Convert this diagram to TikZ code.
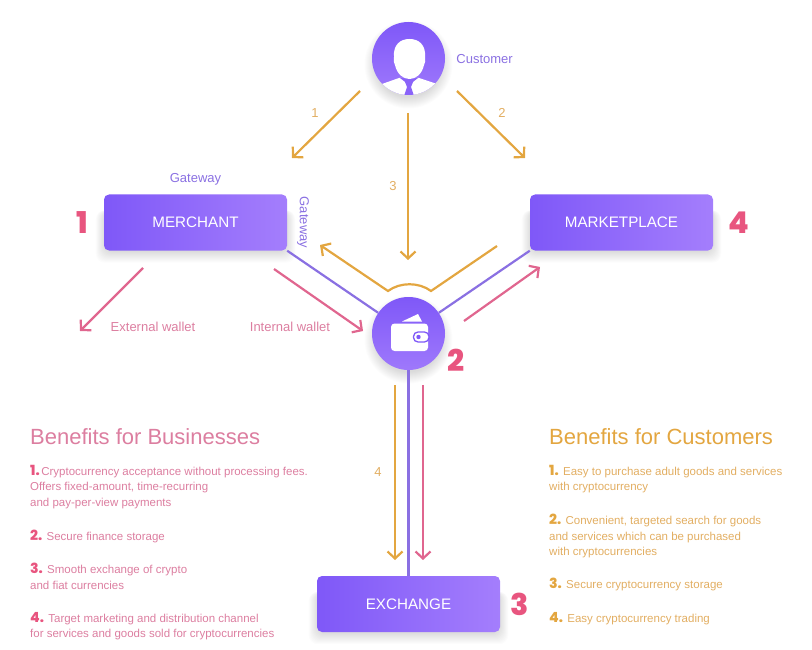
\documentclass[tikz,border=0pt]{standalone}
\usepackage{fontspec}
\setmainfont{Liberation Sans}
\newfontfamily\numfont{Poppins}[BoldFont={Poppins ExtraBold}]
\usepackage{tikz}
\usetikzlibrary{arrows.meta, positioning, calc, backgrounds}
\definecolor{violetA}{HTML}{7F58F8}
\definecolor{violetB}{HTML}{A47EFC}
\definecolor{violetLine}{HTML}{8A70E2}
\definecolor{amberLine}{HTML}{E3A640}
\definecolor{amberText}{HTML}{E2AE62}
\definecolor{roseLine}{HTML}{E0668F}
\definecolor{roseText}{HTML}{DC7EA0}
\definecolor{roseNum}{HTML}{E8557F}
\newcommand{\pnum}{\numfont\bfseries\fontsize{14}{15.5}\selectfont}
\newcommand{\softbox}[1]{\foreach \g in {1,...,12}
    \fill[black, opacity=.011, rounded corners=9pt] ($(#1.south west)+(1.5-\g*.8,\g)$) rectangle ($(#1.north east)+(\g*.8-1.5,16)$);}
\newcommand{\softhub}[1]{\foreach \g in {1,...,12}
    \fill[black, opacity=.011] ($(#1.center)+(0,6)$) circle ({32+\g});}
\begin{document}
\begin{tikzpicture}[
    x=1pt, y=-1pt,
    box/.style={rounded corners=5pt, minimum width=183pt, minimum height=56pt, inner sep=0pt,
        left color=violetA, right color=violetB, text=white, font=\fontsize{15.2}{17}\selectfont},
    hub/.style={circle, minimum size=73pt, inner sep=0pt, top color=violetA, bottom color=violetB!85!violetA},
    bignum/.style={text=roseNum, font=\numfont\bfseries\fontsize{30}{30}\selectfont, inner sep=0pt},
    violetlabel/.style={text=violetLine, font=\fontsize{13}{15}\selectfont, inner sep=0pt},
    amberlabel/.style={text=amberText, font=\fontsize{13}{15}\selectfont, inner sep=0pt},
    roselabel/.style={text=roseText, font=\fontsize{13}{15}\selectfont, inner sep=0pt},
    head/.style={anchor=west, inner sep=0pt, font=\fontsize{22}{24}\selectfont},
    para/.style={anchor=north west, inner sep=0pt, align=left, font=\fontsize{11.5}{15.5}\selectfont},
    link/.style={draw=violetLine, line width=2.2pt},
    amb/.style={draw=amberLine, line width=2.2pt, -{Straight Barb[length=7pt, width=15pt]}},
    ros/.style={draw=roseLine, line width=2.2pt, -{Straight Barb[length=7pt, width=15pt]}},
]
\useasboundingbox (0,0) rectangle (812,650);
\node[box] (merchant) at (195.5,222.5) {MERCHANT};
\node[box] (marketplace) at (621.5,222.5) {MARKETPLACE};
\node[box] (exchange) at (408.5,604) {EXCHANGE};
\node[hub] (customer) at (408.5,58.5) {};
\node[hub] (wallet) at (408.5,333.5) {};
% person
\begin{scope}
\clip (customer.center) circle (36.5);
\fill[white] (382,84) -- (399,78) -- (419,78) -- (437,84) -- (442,100) -- (376,100) -- cycle;
\fill[violetA!70!violetB] (400,78) -- (409,85) -- (418,78) -- cycle;
\fill[violetA!70!violetB] (405,82) -- (413,82) -- (411,87) -- (414,96) -- (404,96) -- (407,87) -- cycle;
\end{scope}
\fill[white] (394,57) .. controls (393,45) and (400,39) .. (409.5,39) .. controls (419,39) and (426,45) .. (425,57)
    .. controls (426,60) and (425,63) .. (424,65) .. controls (422,74) and (416,79) .. (409.5,79)
    .. controls (403,79) and (397,74) .. (395,65) .. controls (394,63) and (393,60) .. (394,57) -- cycle;
% wallet icon
\fill[white] (402,321.5) -- (418,314) -- (422,321.5) -- cycle;
\fill[white, rounded corners=3.5pt] (391,323.5) rectangle (428,351);
\draw[violetA, line width=1.3pt, fill=white, rounded corners=4.5pt] (413.5,332) rectangle (429,342);
\fill[violetA] (418.5,337) circle (2.2);
% labels
\node[violetlabel, right=11pt of customer, yshift=-1pt] (customerlabel) {Customer};
\node[violetlabel, above=9pt of merchant] (gatewaytop) {Gateway};
\node[violetlabel, rotate=-90] (gatewayside) at (303,222.5) {Gateway};
\node[amberlabel] (one) at (315,113) {1};
\node[amberlabel] (two) at (502,113) {2};
\node[amberlabel] (three) at (393,186) {3};
\node[amberlabel] (four) at (378,472) {4};
\node[roselabel] (external) at (153,327) {External wallet};
\node[roselabel] (internal) at (290,327) {Internal wallet};
\node[bignum, left=15pt of merchant] (num1) {1};
\node[bignum, right=15pt of marketplace] (num4) {4};
\node[bignum] (num2) at (456,360) {2};
\node[bignum, right=10pt of exchange] (num3) {3};
% benefits left
\node[head, text=roseText] (bizhead) at (30,437) {Benefits for Businesses};
\node[para, text=roseText] (biz1) at (30,465) {{\pnum\color{roseNum}1.}\hspace{1.5pt}Cryptocurrency acceptance without processing fees.\\Offers fixed-amount, time-recurring\\and pay-per-view payments};
\node[para, text=roseText] (biz2) at (30,530) {{\pnum\color{roseNum}2.} Secure finance storage};
\node[para, text=roseText] (biz3) at (30,563) {{\pnum\color{roseNum}3.} Smooth exchange of crypto\\and fiat currencies};
\node[para, text=roseText] (biz4) at (30,612) {{\pnum\color{roseNum}4.} Target marketing and distribution channel\\for services and goods sold for cryptocurrencies};
% benefits right
\node[head, text=amberLine] (cushead) at (549,437) {Benefits for Customers};
\node[para, text=amberText] (cus1) at (549,465) {{\pnum\color{amberLine}1.} Easy to purchase adult goods and services\\with cryptocurrency};
\node[para, text=amberText] (cus2) at (549,514) {{\pnum\color{amberLine}2.} Convenient, targeted search for goods\\and services which can be purchased\\with cryptocurrencies};
\node[para, text=amberText] (cus3) at (549,578) {{\pnum\color{amberLine}3.} Secure cryptocurrency storage};
\node[para, text=amberText] (cus4) at (549,612) {{\pnum\color{amberLine}4.} Easy cryptocurrency trading};
% arrow ends
\coordinate (a1s) at (360,91);
\coordinate (a1e) at (292,158);
\coordinate (a2s) at (457,91);
\coordinate (a2e) at (525,158);
\coordinate (a3s) at (408,113);
\coordinate (a3e) at (408,260);
\coordinate (a4s) at (395,385);
\coordinate (a4e) at (395,560);
\coordinate (b1s) at (143,268);
\coordinate (b1e) at (80,331);
\coordinate (b2s) at (274,269);
\coordinate (b2e) at (363,331);
\coordinate (b3s) at (464,321);
\coordinate (b3e) at (540,267);
\coordinate (b4s) at (423,385);
\coordinate (b4e) at (423,560);
\coordinate (cs) at (497,246);
\coordinate (cr) at (431,291);
\coordinate (cl) at (388,291);
\coordinate (ce) at (320,245);
\begin{scope}[on background layer]
\softbox{merchant}
\softbox{marketplace}
\softbox{exchange}
\softhub{customer}
\softhub{wallet}
\draw[link] (merchant.south east) -- (wallet);
\draw[link] (marketplace.south west) -- (wallet);
\draw[link] (wallet) -- (exchange);
\end{scope}
\draw[amb] (a1s) -- (a1e);
\draw[amb] (a2s) -- (a2e);
\draw[amb] (a3s) -- (a3e);
\draw[amb] (a4s) -- (a4e);
\draw[amb] (cs) -- (cr) .. controls (419,282) and (400,282) .. (cl) -- (ce);
\draw[ros] (b1s) -- (b1e);
\draw[ros] (b2s) -- (b2e);
\draw[ros] (b3s) -- (b3e);
\draw[ros] (b4s) -- (b4e);
\end{tikzpicture}
\end{document}
